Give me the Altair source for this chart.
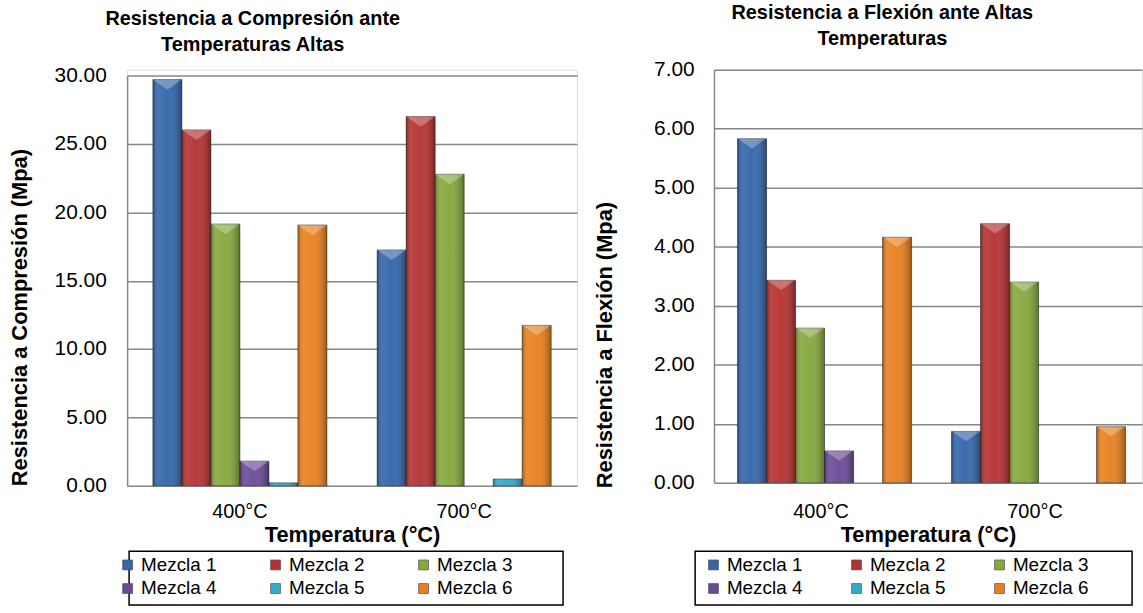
import altair as alt
import pandas as pd

temps = ["400°C", "700°C"]
mezclas = ["Mezcla 1", "Mezcla 2", "Mezcla 3", "Mezcla 4", "Mezcla 5", "Mezcla 6"]
colores = ["#3366AB", "#B53131", "#86A83C", "#6A4A97", "#30ABCC", "#E8801F"]

comp_400 = [29.71, 26.03, 19.14, 1.80, 0.21, 19.07]
comp_700 = [17.25, 27.00, 22.78, 0.00, 0.49, 11.73]
flex_400 = [5.83, 3.43, 2.62, 0.54, 0.00, 4.16]
flex_700 = [0.87, 4.39, 3.40, 0.00, 0.00, 0.95]

comp_ticks = [0, 5, 10, 15, 20, 25, 30]
flex_ticks = [0, 1, 2, 3, 4, 5, 6, 7]

FONT = "Liberation Sans"
BEVEL = "M -1 0 L 1 0 L 0 0.7 Z"


def make_df(v400, v700):
    rows = []
    for t, vals in zip(temps, [v400, v700]):
        for m, v in zip(mezclas, vals):
            rows.append({"temp": t, "mezcla": m, "valor": v})
    return pd.DataFrame(rows)


shade = alt.LinearGradient(
    gradient="linear", x1=0, x2=1, y1=0, y2=0,
    stops=[
        alt.GradientStop(offset=0, color="rgba(0,0,0,0.30)"),
        alt.GradientStop(offset=0.18, color="rgba(255,255,255,0.10)"),
        alt.GradientStop(offset=0.5, color="rgba(255,255,255,0.04)"),
        alt.GradientStop(offset=1, color="rgba(0,0,0,0.32)"),
    ],
)


def panel(df, title_lines, title_dx, ytitle, ticks, width, height, yrange,
          pad_in, pad_out, ytx, yty, xlabpad, ylabpad, leg_x, leg_y, box, colpad,
          bevel_min, bevel_size):
    x = alt.X(
        "temp:N", sort=temps,
        scale=alt.Scale(paddingInner=pad_in, paddingOuter=pad_out),
        axis=alt.Axis(title="Temperatura (°C)", labelAngle=0, ticks=False,
                      domain=False, grid=False, labelFontSize=20, labelFont=FONT,
                      labelColor="black", labelPadding=xlabpad, titleFontSize=22,
                      titleFont=FONT, titleFontWeight="bold", titleColor="black",
                      titlePadding=3),
    )
    xo = alt.XOffset("mezcla:N", sort=mezclas,
                     scale=alt.Scale(domain=mezclas, paddingInner=0, paddingOuter=0))
    y = alt.Y(
        "valor:Q",
        scale=alt.Scale(domain=[ticks[0], ticks[-1]], range=yrange, nice=False),
        axis=alt.Axis(title=ytitle, values=ticks, format=".2f", ticks=False,
                      domain=True, domainColor="#878787", domainWidth=1.5,
                      grid=True, gridColor="#878787", gridWidth=1.5,
                      labelFontSize=21, labelFont=FONT, labelColor="black",
                      labelPadding=ylabpad, titleFontSize=22, titleFont=FONT,
                      titleFontWeight="bold", titleColor="black",
                      titleX=ytx, titleY=yty, titleAngle=270,
                      titleAlign="left", titleBaseline="middle"),
    )
    color = alt.Color(
        "mezcla:N", sort=mezclas,
        scale=alt.Scale(domain=mezclas, range=colores),
        legend=alt.Legend(title=None, orient="none", legendX=leg_x, legendY=leg_y,
                          direction="horizontal", columns=3, symbolType="square",
                          symbolSize=100, symbolStrokeWidth=0.6,
                          symbolStrokeColor="#444", labelFontSize=19,
                          labelFont=FONT, labelColor="black", labelOffset=4,
                          columnPadding=colpad, rowPadding=4, padding=0),
    )
    base = alt.Chart(df).transform_filter("datum.valor > 0")
    bars = base.mark_bar(stroke="#2a2a2a", strokeWidth=0.8, strokeOpacity=0.7).encode(
        x=x, xOffset=xo, y=y, color=color)
    overlay = base.mark_bar(color=shade).encode(x=x, xOffset=xo, y=y)
    bevel = alt.Chart(df).transform_filter(f"datum.valor > {bevel_min}").mark_point(
        shape=BEVEL, filled=True, fill="white", fillOpacity=0.28, strokeWidth=0,
        size=bevel_size).encode(x=x, xOffset=xo, y=y)
    frame = alt.Chart(pd.DataFrame({"k": [0]})).mark_rect(
        fill="transparent", stroke="black", strokeWidth=1.5).encode(
        x=alt.value(box[0]), x2=alt.value(box[1]),
        y=alt.value(box[2]), y2=alt.value(box[3]))
    return alt.layer(bars, overlay, bevel, frame).properties(
        width=width, height=height,
        title=alt.TitleParams(text=title_lines, fontSize=20, font=FONT,
                              fontWeight="bold", color="black", anchor="middle",
                              offset=10, lineHeight=26, dx=title_dx),
    )


left = panel(make_df(comp_400, comp_700),
             ["Resistencia a Compresión ante", "Temperaturas Altas"], -100,
             "Resistencia a Compresión (Mpa)", comp_ticks,
             453, 419, [419, 6], 0.224, 0.115,
             -108, 419, 16, 21, -9, 489, (2, 439, 485, 539), 49, 1.0, 853)
right = panel(make_df(flex_400, flex_700),
              ["Resistencia a Flexión ante Altas", "Temperaturas"], -46,
              "Resistencia a Flexión (Mpa)", flex_ticks,
              431, 416, [416, 0], 0.22, 0.11,
              -110, 421, 19, 20, -10, 489, (-19, 421, 485, 539), 44, 0.2, 784)

chart = alt.hconcat(left, right, spacing=15).resolve_scale(
    color="independent", y="independent", x="independent"
).resolve_legend(color="independent").configure_view(stroke=None).configure(
    padding={"left": 8, "top": 0, "right": 0, "bottom": 0}
)

chart.save("out.html", embed_options={"renderer": "svg", "actions": False})
